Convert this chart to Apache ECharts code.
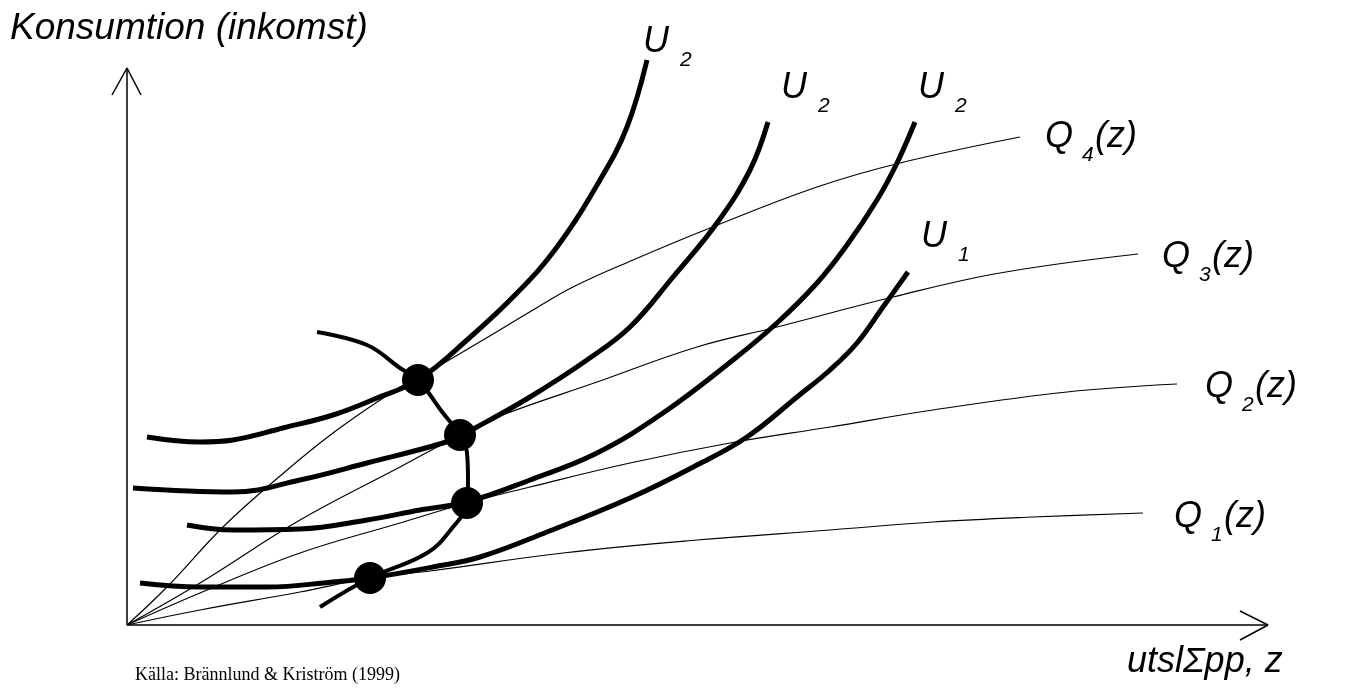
<!DOCTYPE html>
<html>
<head>
  <meta charset="utf-8">
  <title>Konsumtion och utsläpp</title>
  <script src="https://cdn.jsdelivr.net/npm/echarts@6/dist/echarts.min.js"></script>
  <style>
    html, body { margin: 0; padding: 0; background: #fff; }
    #chart { width: 1345px; height: 689px; }
  </style>
</head>
<body>
  <div id="chart"></div>
  <script>
    // units: distance from the origin of the diagram (x right, y up)
    const xEnd = 1141;
    const yEnd = 557;

    // thin curves Q1..Q4 (all start in the origin)
    const q1 = [[0,0],[73,15],[173,33],[243,47],[303,54],[436,72],[570,85],[703,95],[806,103],[906,108],[1016,112]];
    const q2 = [[0,0],[73,32],[173,72],[273,102],[340,122],[403,138],[503,162],[603,182],[703,198],[806,215],[940,233],[1050,241]];
    const q3 = [[0,0],[73,42],[173,105],[273,158],[333,190],[370,208],[470,243],[570,278],[650,298],[766,328],[873,352],[1011,371]];
    const q4 = [[0,0],[40,38],[96,98],[146,143],[206,192],[273,238],[291,247],[356,285],[406,315],[446,338],[506,365],[583,397],[690,438],[773,462],[893,488]];

    // thick indifference curves, top to bottom
    const uA = [[20,188],[73,183],[106,185],[156,197],[206,210],[250,227],[291,245],[340,285],[390,332],[430,378],[473,445],[500,498],[520,565]];
    const uB = [[6,137],[106,133],[173,145],[240,162],[316,182],[333,190],[350,198],[403,228],[460,265],[503,298],[546,348],[590,402],[623,455],[641,503]];
    const uC = [[60,100],[106,95],[173,96],[240,105],[293,115],[340,123],[403,145],[470,172],[536,212],[606,265],[650,302],[690,342],[720,380],[750,425],[770,462],[788,503]];
    const uD = [[13,42],[73,38],[140,38],[206,43],[243,47],[306,58],[353,68],[420,93],[503,127],[570,160],[620,188],[670,228],[703,255],[730,282],[756,318],[781,353]];

    // expansion path through the tangency points
    const path = [[190,293],[240,280],[273,257],[291,245],[316,212],[333,190],[340,172],[341,145],[340,122],[326,98],[300,72],[243,47],[193,18]];
    const dots = [[291,245],[333,190],[340,122],[243,47]];

    const chart = echarts.init(document.getElementById('chart'));

    const curve = (data, width) => ({
      type: 'line', data: data, smooth: 0.4, symbol: 'none', clip: false,
      lineStyle: { color: '#000', width: width }, silent: true
    });
    const plain = (data) => ({
      type: 'line', data: data, symbol: 'none', clip: false,
      lineStyle: { color: '#000', width: 1.5 }, silent: true
    });

    const big = 'italic 36px "Liberation Sans", Arial, sans-serif';
    const sub = 'italic 21px "Liberation Sans", Arial, sans-serif';
    const txt = (t, x, y, font) => ({
      type: 'text', x: x, y: y, silent: true,
      style: { text: t, font: font, fill: '#000', textAlign: 'left', textVerticalAlign: 'middle' }
    });
    // letter, subscript, trailing text
    const lbl = (main, s, tail, x, y) => [
      txt(main, x, y, big),
      txt(s, x + 37, y + 18, sub),
      tail ? txt(tail, x + 50, y, big) : null
    ].filter(Boolean);

    chart.setOption({
      animation: false,
      grid: { left: 0, right: 0, top: 0, bottom: 0 },
      xAxis: { type: 'value', min: -127, max: 1218, show: false },
      yAxis: { type: 'value', min: -64, max: 625, show: false },
      series: [
        // axes with open arrow heads
        plain([[0, 0], [0, yEnd]]),
        plain([[-15, yEnd - 27], [0, yEnd], [14, yEnd - 27]]),
        plain([[0, 0], [xEnd, 0]]),
        plain([[xEnd - 28, 14], [xEnd, 0], [xEnd - 28, -15]]),
        curve(q1, 1.2), curve(q2, 1.2), curve(q3, 1.2), curve(q4, 1.2),
        curve(uA, 5), curve(uB, 5), curve(uC, 5), curve(uD, 5),
        curve(path, 4),
        {
          type: 'scatter', data: dots, symbol: 'circle', symbolSize: 32,
          itemStyle: { color: '#000', opacity: 1 }, silent: true
        }
      ],
      graphic: [
        txt('Konsumtion (inkomst)', 10, 29, 'italic 37px "Liberation Sans", Arial, sans-serif'),
        txt('utslΣpp, z', 1127, 662, 'italic 36px "Liberation Sans", Arial, sans-serif'),
        txt('Källa: Brännlund & Kriström (1999)', 135, 675, '18px "Liberation Serif", "Times New Roman", serif'),
        ...lbl('U', '2', null, 643, 42),
        ...lbl('U', '2', null, 781, 88),
        ...lbl('U', '2', null, 918, 88),
        ...lbl('U', '1', null, 921, 237),
        ...lbl('Q', '4', '(z)', 1045, 137),
        ...lbl('Q', '3', '(z)', 1162, 257),
        ...lbl('Q', '2', '(z)', 1205, 387),
        ...lbl('Q', '1', '(z)', 1174, 517)
      ]
    });
  </script>
</body>
</html>
